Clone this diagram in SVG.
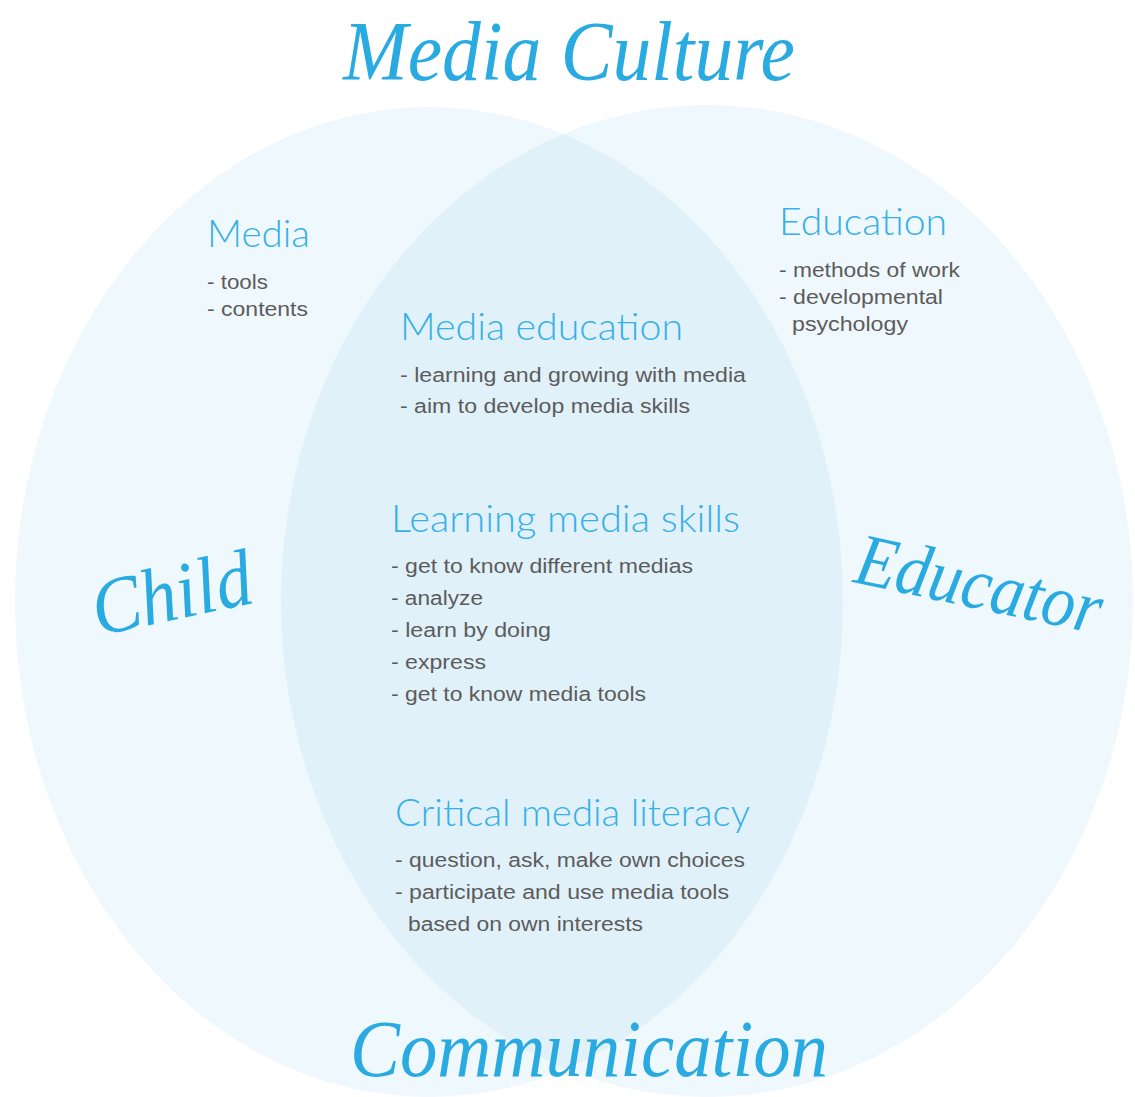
<svg xmlns="http://www.w3.org/2000/svg" width="1135" height="1097" viewBox="0 0 1135 1097">
<style>
.bg{fill:#ffffff}
.circ{fill:#eff8fd}
.overlap{fill:#e1f1fa}
.script{font-family:"Liberation Serif","DejaVu Serif",serif;font-style:italic;fill:#29abe2}
.head{font-family:Lato,"Liberation Sans",sans-serif;font-weight:300;font-size:38px;fill:#36b0e6}
.body{font-family:"Liberation Sans",Arial,sans-serif;font-size:20px;fill:#5c5c5c}
</style>
<defs>
<clipPath id="clipLeft"><ellipse cx="429" cy="602" rx="414" ry="495"/></clipPath>
</defs>
<rect class="bg" x="0" y="0" width="1135" height="1097"/>
<g id="circles">
<ellipse id="circle-child" class="circ" cx="429" cy="602" rx="414" ry="495"/>
<ellipse id="circle-educator" class="circ" cx="707" cy="601" rx="426" ry="496"/>
<ellipse id="overlap" class="overlap" cx="707" cy="601" rx="426" ry="496" clip-path="url(#clipLeft)"/>
</g>
<g id="title-media-culture"><text class="script" x="343" y="80" font-size="84" textLength="452" lengthAdjust="spacingAndGlyphs">Media Culture</text></g>
<g id="title-child"><text class="script" x="98" y="636" font-size="80" textLength="162" lengthAdjust="spacingAndGlyphs" transform="rotate(-12 98 636)">Child</text></g>
<g id="title-educator"><text class="script" x="852" y="582" font-size="74" textLength="250" lengthAdjust="spacingAndGlyphs" transform="rotate(12 852 582)">Educator</text></g>
<g id="title-communication"><text class="script" x="350" y="1076" font-size="80" textLength="478" lengthAdjust="spacingAndGlyphs">Communication</text></g>
<g id="node-media">
<text class="head" x="207" y="247" textLength="103" lengthAdjust="spacingAndGlyphs">Media</text>
<text class="body" x="207" y="289" textLength="61" lengthAdjust="spacingAndGlyphs">- tools</text>
<text class="body" x="207" y="316" textLength="101" lengthAdjust="spacingAndGlyphs">- contents</text>
</g>
<g id="node-education">
<text class="head" x="779" y="235" textLength="168" lengthAdjust="spacingAndGlyphs">Education</text>
<text class="body" x="779" y="277" textLength="181" lengthAdjust="spacingAndGlyphs">- methods of work</text>
<text class="body" x="779" y="304" textLength="164" lengthAdjust="spacingAndGlyphs">- developmental</text>
<text class="body" x="792" y="331" textLength="116" lengthAdjust="spacingAndGlyphs">psychology</text>
</g>
<g id="node-media-education">
<text class="head" x="400" y="340" textLength="283" lengthAdjust="spacingAndGlyphs">Media education</text>
<text class="body" x="400" y="382" textLength="346" lengthAdjust="spacingAndGlyphs">- learning and growing with media</text>
<text class="body" x="400" y="413" textLength="290" lengthAdjust="spacingAndGlyphs">- aim to develop media skills</text>
</g>
<g id="node-learning-media-skills">
<text class="head" x="391" y="532" textLength="349" lengthAdjust="spacingAndGlyphs">Learning media skills</text>
<text class="body" x="391" y="573" textLength="302" lengthAdjust="spacingAndGlyphs">- get to know different medias</text>
<text class="body" x="391" y="605" textLength="92" lengthAdjust="spacingAndGlyphs">- analyze</text>
<text class="body" x="391" y="637" textLength="160" lengthAdjust="spacingAndGlyphs">- learn by doing</text>
<text class="body" x="391" y="669" textLength="95" lengthAdjust="spacingAndGlyphs">- express</text>
<text class="body" x="391" y="701" textLength="255" lengthAdjust="spacingAndGlyphs">- get to know media tools</text>
</g>
<g id="node-critical-media-literacy">
<text class="head" x="395" y="826" textLength="355" lengthAdjust="spacingAndGlyphs">Critical media literacy</text>
<text class="body" x="395" y="867" textLength="350" lengthAdjust="spacingAndGlyphs">- question, ask, make own choices</text>
<text class="body" x="395" y="899" textLength="334" lengthAdjust="spacingAndGlyphs">- participate and use media tools</text>
<text class="body" x="408" y="931" textLength="235" lengthAdjust="spacingAndGlyphs">based on own interests</text>
</g>
<g id="connectors"></g>
</svg>
